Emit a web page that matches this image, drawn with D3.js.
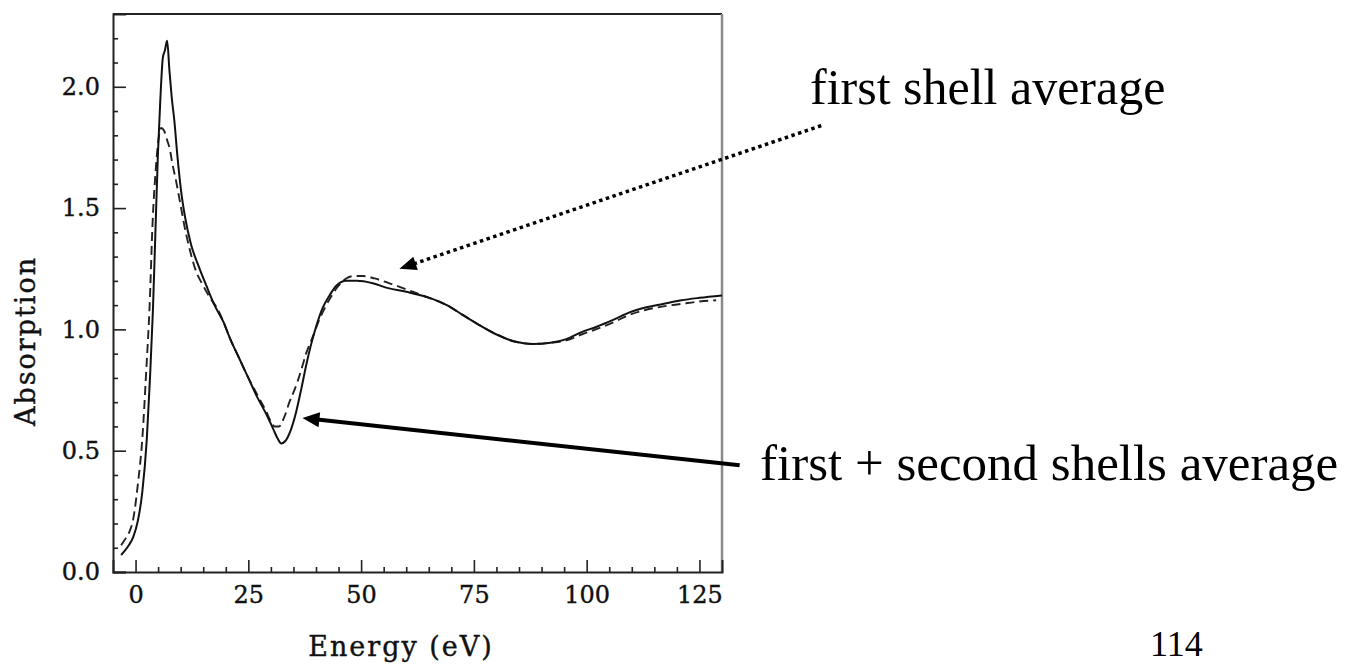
<!DOCTYPE html>
<html>
<head>
<meta charset="utf-8">
<script src="https://cdn.jsdelivr.net/npm/d3@7"></script>
<style>
  html, body { margin: 0; padding: 0; background: #fff; }
  svg { display: block; }
  .axis text { font-family: "DejaVu Serif", serif; fill: #111; stroke: #111; stroke-width: 0.4px; }
  .axis-title { font-family: "DejaVu Serif", serif; fill: #111; stroke: #111; stroke-width: 0.4px; letter-spacing: 2px; }
  .note { font-family: "Liberation Serif", "Times New Roman", serif; fill: #000; }
</style>
</head>
<body>
<svg id="chart" width="1353" height="664"></svg>
<script>
// Absorption spectra: first-shell average (dashed) and first + second shells average (solid)
const energyFirstShell = [-3.2, -2.5, -1.5, -0.5, 0.5, 1.5, 2.4, 3.1, 3.8, 4.4, 5.0, 5.7, 6.3, 7.0, 7.5, 8.2, 9.0, 10.0, 10.9, 12.0, 13.4, 15.0, 16.5, 18.0, 19.5, 21, 23, 25, 27, 29, 30.0, 30.8, 31.8, 33.0, 34.1, 35.0, 36.0, 37.0, 37.8, 39.3, 40.5, 42, 43.5, 45, 46.7, 48.5, 50.4, 53, 56.3, 60.7, 65, 69, 72.5, 76, 80, 84, 88, 92, 95.5, 99, 102, 106, 109.5, 113, 117, 121, 125, 128.7];
const absorptionFirstShell = [0.11, 0.13, 0.16, 0.22, 0.36, 0.55, 0.84, 1.09, 1.45, 1.64, 1.77, 1.83, 1.82, 1.78, 1.75, 1.68, 1.61, 1.51, 1.42, 1.33, 1.24, 1.18, 1.13, 1.09, 1.03, 0.96, 0.88, 0.80, 0.73, 0.66, 0.62, 0.60, 0.60, 0.64, 0.70, 0.74, 0.79, 0.85, 0.90, 0.97, 1.03, 1.09, 1.14, 1.18, 1.21, 1.22, 1.22, 1.21, 1.19, 1.16, 1.13, 1.10, 1.06, 1.02, 0.98, 0.95, 0.94, 0.945, 0.955, 0.98, 1.00, 1.03, 1.06, 1.08, 1.095, 1.105, 1.115, 1.12];

const energyBothShells = [-3.2, -2.5, -1.5, -0.5, 0.5, 1.5, 2.5, 3.2, 3.85, 4.4, 4.95, 5.5, 6.05, 6.5, 7.0, 7.5, 8.0, 8.6, 9.3, 10.1, 11.0, 12.3, 14.0, 15.7, 17.5, 19.5, 21.0, 23.0, 25.0, 27.0, 29.0, 30.5, 31.5, 32.3, 33.2, 34.3, 35.6, 36.8, 37.8, 38.8, 40.0, 41.5, 43.0, 44.5, 46.7, 49, 52.6, 56, 60, 65.2, 69, 72.5, 76, 79.9, 84, 88.1, 92, 95.5, 99, 102.1, 106, 109.5, 113, 116.9, 121, 125, 130];
const absorptionBothShells = [0.07, 0.085, 0.11, 0.145, 0.21, 0.33, 0.55, 0.80, 1.08, 1.40, 1.72, 1.95, 2.12, 2.15, 2.19, 2.07, 1.96, 1.86, 1.71, 1.57, 1.46, 1.35, 1.26, 1.18, 1.10, 1.03, 0.96, 0.88, 0.80, 0.72, 0.65, 0.59, 0.55, 0.53, 0.54, 0.58, 0.66, 0.76, 0.85, 0.93, 1.01, 1.09, 1.14, 1.18, 1.20, 1.20, 1.19, 1.17, 1.155, 1.13, 1.10, 1.06, 1.02, 0.98, 0.95, 0.94, 0.945, 0.96, 0.99, 1.01, 1.04, 1.07, 1.09, 1.105, 1.12, 1.13, 1.14];

const xMajorTicks = [0, 25, 50, 75, 100, 125];
const xMinorTicks = [5, 10, 15, 20, 30, 35, 40, 45, 55, 60, 65, 70, 80, 85, 90, 95, 105, 110, 115, 120];
const yMajorTicks = [0.0, 0.5, 1.0, 1.5, 2.0];
const yMinorTicks = [0.1, 0.2, 0.3, 0.4, 0.6, 0.7, 0.8, 0.9, 1.1, 1.2, 1.3, 1.4, 1.6, 1.7, 1.8, 1.9, 2.1, 2.2];

const xTitle = "Energy (eV)";
const yTitle = "Absorption";
const firstShellNote = "first shell average";
const bothShellsNote = "first + second shells average";
const pageNumber = "114";

// Annotation anchors in data units: [energy, absorption]
const firstShellArrowTail = [152.0, 1.84];
const firstShellArrowTip = [58.5, 1.25];
const bothShellsArrowTail = [133.9, 0.44];
const bothShellsArrowTip = [37.0, 0.635];

const svg = d3.select("#chart");
const plotLeft = 113, plotRight = 722, plotTop = 14, plotBottom = 572;

const x = d3.scaleLinear().domain([-5, 130]).range([plotLeft, plotRight]);
const y = d3.scaleLinear().domain([0, 2.3]).range([plotBottom, plotTop]);

// Frame
svg.append("line").attr("x1", plotLeft).attr("x2", plotRight).attr("y1", plotTop).attr("y2", plotTop)
  .attr("stroke", "#222").attr("stroke-width", 2);
svg.append("line").attr("x1", plotRight).attr("x2", plotRight).attr("y1", plotTop).attr("y2", plotBottom)
  .attr("stroke", "#8a8a8a").attr("stroke-width", 2.5);

// Bottom axis: major and minor ticks drawn inward
const xAxis = svg.append("g").attr("class", "axis").attr("transform", `translate(0,${plotBottom})`);
xAxis.call(d3.axisBottom(x).tickValues(xMajorTicks).tickSize(-12).tickPadding(14).tickFormat(d3.format("d")));
svg.append("g").attr("transform", `translate(0,${plotBottom})`)
  .call(d3.axisBottom(x).tickValues(xMinorTicks).tickSize(-5).tickFormat(""))
  .call(g => g.select(".domain").remove());

// Left axis
const yAxis = svg.append("g").attr("class", "axis").attr("transform", `translate(${plotLeft},0)`);
yAxis.call(d3.axisLeft(y).tickValues(yMajorTicks).tickSize(-13).tickPadding(13).tickFormat(d3.format(".1f")));
svg.append("g").attr("transform", `translate(${plotLeft},0)`)
  .call(d3.axisLeft(y).tickValues(yMinorTicks).tickSize(-5).tickFormat(""))
  .call(g => g.select(".domain").remove());

svg.selectAll(".domain").attr("stroke", "#222").attr("stroke-width", 2);
svg.selectAll(".tick line").attr("stroke", "#222").attr("stroke-width", 1.6);
xAxis.selectAll("text").style("font-size", "24px");
yAxis.selectAll("text").style("font-size", "24px");

// Axis titles
svg.append("text").attr("class", "axis-title")
  .attr("x", 401).attr("y", 646).attr("text-anchor", "middle").attr("dominant-baseline", "central")
  .style("font-size", "27px")
  .text(xTitle);
svg.append("text").attr("class", "axis-title")
  .attr("transform", "translate(25,341) rotate(-90)")
  .attr("text-anchor", "middle").attr("dominant-baseline", "central")
  .style("font-size", "27px")
  .text(yTitle);

// Curves
const line = d3.line().x(d => x(d[0])).y(d => y(d[1])).curve(d3.curveMonotoneX);
const firstShell = energyFirstShell.map((e, i) => [e, absorptionFirstShell[i]]);
const bothShells = energyBothShells.map((e, i) => [e, absorptionBothShells[i]]);

svg.append("path").datum(firstShell).attr("d", line)
  .attr("fill", "none").attr("stroke", "#222").attr("stroke-width", 1.9)
  .attr("stroke-dasharray", "9 5");
svg.append("path").datum(bothShells).attr("d", line)
  .attr("fill", "none").attr("stroke", "#111").attr("stroke-width", 2);

// Annotation arrows
function arrow(tail, tip, opts) {
  const x0 = x(tail[0]), y0 = y(tail[1]), x1 = x(tip[0]), y1 = y(tip[1]);
  const dx = x1 - x0, dy = y1 - y0, len = Math.hypot(dx, dy);
  const ux = dx / len, uy = dy / len;
  const bx = x1 - ux * opts.headLength, by = y1 - uy * opts.headLength;
  svg.append("line").attr("x1", x0).attr("y1", y0).attr("x2", bx + ux * 2).attr("y2", by + uy * 2)
    .attr("stroke", "#000").attr("stroke-width", opts.width)
    .attr("stroke-dasharray", opts.dash || null);
  const hw = opts.headWidth / 2;
  const pts = [[x1, y1], [bx - uy * hw, by + ux * hw], [bx + uy * hw, by - ux * hw]];
  svg.append("polygon").attr("points", pts.map(p => p.join(",")).join(" ")).attr("fill", "#000");
}
arrow(firstShellArrowTail, firstShellArrowTip, { width: 3.5, dash: "3.5 3.5", headLength: 17, headWidth: 14 });
arrow(bothShellsArrowTail, bothShellsArrowTip, { width: 4, headLength: 17, headWidth: 15 });

// Notes
svg.append("text").attr("class", "note").attr("x", 810).attr("y", 104).style("font-size", "50px").text(firstShellNote);
svg.append("text").attr("class", "note").attr("x", 760).attr("y", 480).style("font-size", "51px").text(bothShellsNote);
svg.append("text").attr("class", "note").attr("x", 1150).attr("y", 656).style("font-size", "36px").text(pageNumber);
</script>
</body>
</html>
